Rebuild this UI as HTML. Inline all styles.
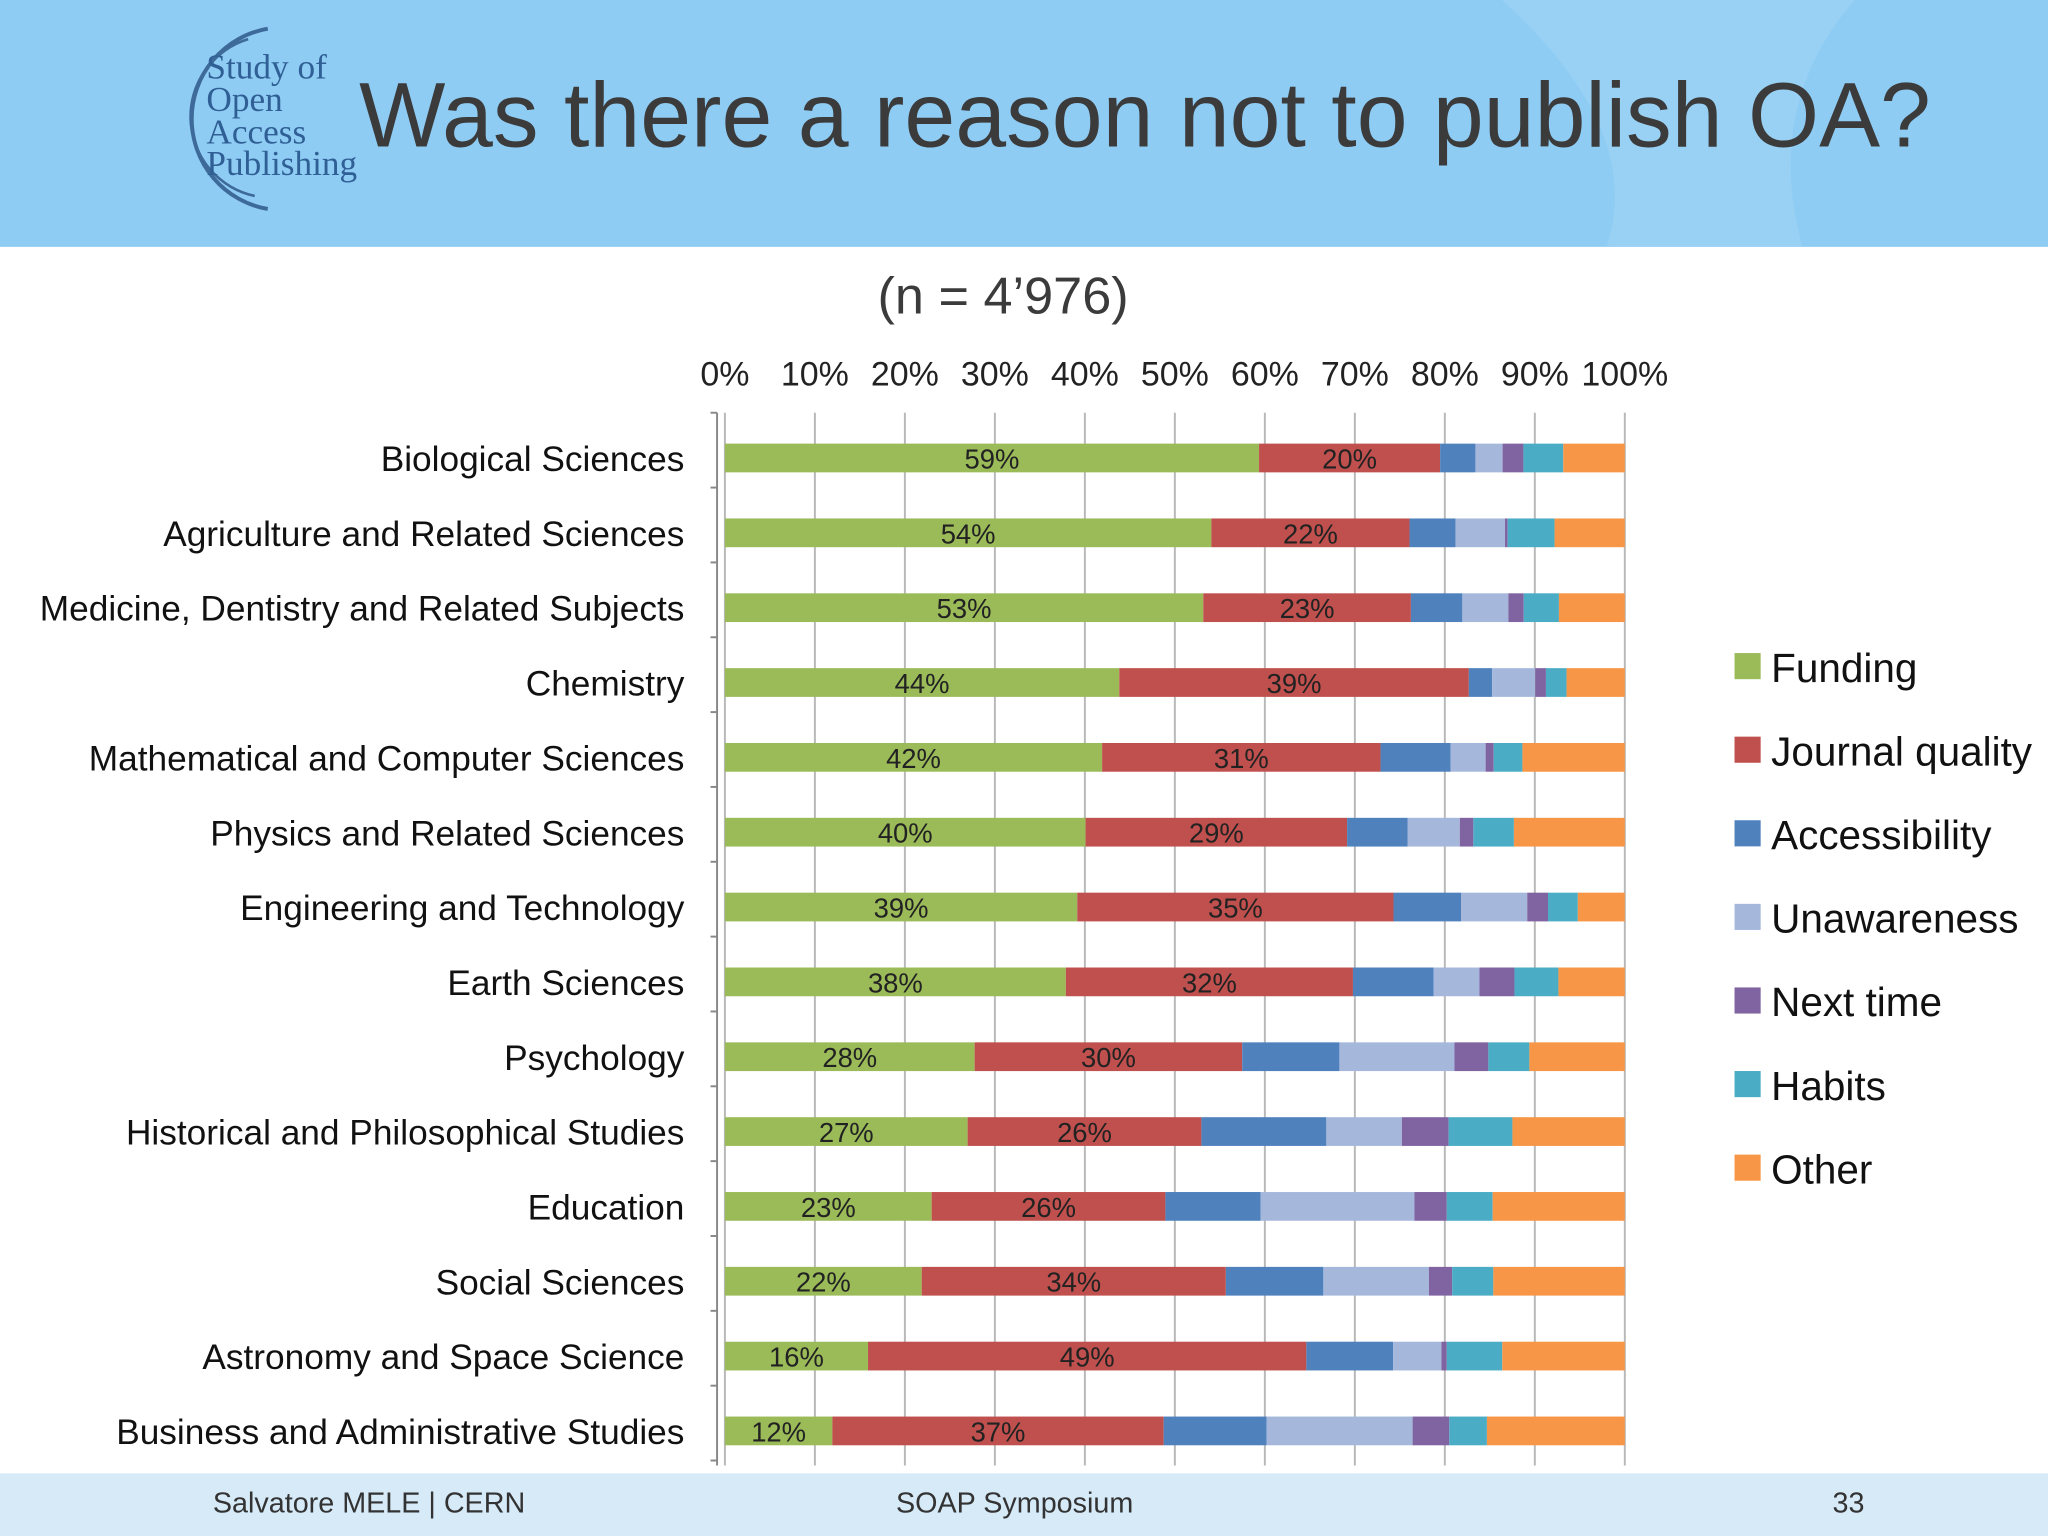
<!DOCTYPE html>
<html><head><meta charset="utf-8"><style>
html,body{margin:0;padding:0;background:#fff;}
svg{display:block;font-family:"Liberation Sans",sans-serif;}
</style></head><body>
<svg id="c" width="2048" height="1536" viewBox="0 0 1568 1176">
<rect x="0" y="0" width="1568" height="189" fill="#8fccf4"/>
<path d="M1150 0 Q1260 100 1230 189 L1380 189 Q1350 80 1420 0Z" fill="#a3d5f6" opacity="0.5"/>
<g>
<path d="M205 22 A70 70 0 0 0 205 160" fill="none" stroke="#3d6a99" stroke-width="3"/>
<path d="M190 30 A62 62 0 0 0 195 150" fill="none" stroke="#3d6a99" stroke-width="2"/>
<g font-family="Liberation Serif,serif" fill="#2f5f95" font-size="27">
<text x="158" y="60">Study of</text><text x="158" y="85">Open</text><text x="158" y="110">Access</text><text x="158" y="134">Publishing</text></g>
</g>
<text x="275" y="112" font-size="70" fill="#3b3b3b">Was there a reason not to publish OA?</text>
<text x="768" y="240" font-size="40" fill="#3b3b3b" text-anchor="middle">(n = 4’976)</text>
<rect x="0" y="1128" width="1568" height="48" fill="#d6eaf8"/>
<text x="163" y="1158" font-size="22" fill="#333">Salvatore MELE | CERN</text>
<text x="686" y="1158" font-size="22" fill="#333">SOAP Symposium</text>
<text x="1403" y="1158" font-size="22" fill="#333">33</text>
<g id="chart"></g>
</svg>
<script>
const categories=["Biological Sciences","Agriculture and Related Sciences","Medicine, Dentistry and Related Subjects","Chemistry","Mathematical and Computer Sciences","Physics and Related Sciences","Engineering and Technology","Earth Sciences","Psychology","Historical and Philosophical Studies","Education","Social Sciences","Astronomy and Space Science","Business and Administrative Studies"];
const seriesNames=["Funding","Journal quality","Accessibility","Unawareness","Next time","Habits","Other"];
const funding=[59,54,53,44,42,40,39,38,28,27,23,22,16,12];
const journalQuality=[20,22,23,39,31,29,35,32,30,26,26,34,49,37];
const accessibility=[3.9,5.1,5.7,2.6,7.8,6.7,7.5,9.0,10.9,13.9,10.6,10.9,9.7,11.5];
const unawareness=[3.0,5.5,5.1,4.8,3.9,5.8,7.3,5.1,12.9,8.4,17.1,11.8,5.4,16.3];
const nextTime=[2.3,0.3,1.7,1.2,0.9,1.5,2.3,3.9,3.8,5.2,3.6,2.6,0.6,4.1];
const habits=[4.4,5.2,3.9,2.3,3.2,4.5,3.3,4.9,4.6,7.1,5.1,4.6,6.2,4.2];
const other=[6.8,7.8,7.3,6.5,11.4,12.3,5.2,7.4,10.7,12.5,14.7,14.7,13.7,15.4];
const ticks=["0%","10%","20%","30%","40%","50%","60%","70%","80%","90%","100%"];
const colors=["#9bbb59","#c0504d","#4f81bd","#a5b8dc","#8064a2","#4bacc6","#f79646"];
const series=[funding,journalQuality,accessibility,unawareness,nextTime,habits,other];
const NS="http://www.w3.org/2000/svg";
const g=document.getElementById('chart');
const xs=v=>555+v*6.89;
const topY=322,rowH=57.3;
const ys=i=>topY+rowH*i+rowH/2;
function mk(t,a,p){const e=document.createElementNS(NS,t);for(const k in a)e.setAttribute(k,a[k]);(p||g).appendChild(e);return e;}
ticks.forEach((t,i)=>{
 const l=mk('line',{x1:xs(i*10),x2:xs(i*10),y1:316,y2:1122,stroke:'#b8b8b8','stroke-width':1.5});
 
 
 const tx=mk('text',{x:xs(i*10),y:295,'font-size':26,'text-anchor':'middle',fill:'#222'});tx.textContent=t;
 
 
});
const ax=mk('line',{x1:549,x2:549,y1:316,y2:1122,stroke:'#888','stroke-width':1.5});


for(let i=0;i<=categories.length;i++){mk('line',{x1:544,x2:549,y1:topY+rowH*i-6,y2:topY+rowH*i-6,stroke:'#888','stroke-width':1.5});}
categories.forEach((c,i)=>{
 const t=mk('text',{x:524,y:ys(i)+10,'font-size':27,'text-anchor':'end',fill:'#111'});t.textContent=c;
 
 
 const total=series.reduce((s,a)=>s+a[i],0);
 let acc=0;
 series.forEach((s,k)=>{
  const v=s[i]*100/total;
  const r=mk('rect',{x:xs(acc),y:ys(i)-11,width:Math.max(0,xs(acc+v)-xs(acc)),height:22,fill:colors[k]});
  
  
  if(k<2){const lt=mk('text',{x:(xs(acc)+xs(acc+v))/2,y:ys(i)+8,'font-size':21,'text-anchor':'middle',fill:'#222'});lt.textContent=Math.round(s[i])+'%';
   
   }
  acc+=v;
 });
});
seriesNames.forEach((n,k)=>{
 const yy=512+k*64;
 const r=mk('rect',{x:1328,y:yy-12,width:20,height:20,fill:colors[k]});
 
 
 const t=mk('text',{x:1356,y:yy+10,'font-size':31,fill:'#111'});t.textContent=n;
 
 
});
</script>
</body></html>
